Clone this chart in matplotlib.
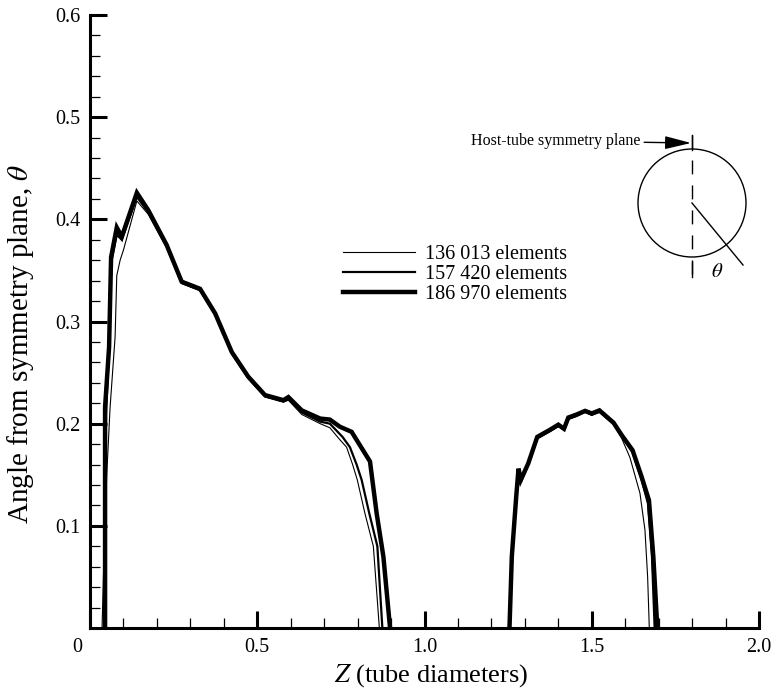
import matplotlib
matplotlib.use("Agg")
import matplotlib.pyplot as plt
from matplotlib.patches import Circle
from matplotlib.ticker import MultipleLocator, FixedLocator, FixedFormatter
from matplotlib.transforms import ScaledTranslation

plt.rcParams["font.family"] = ["Liberation Serif", "DejaVu Serif"]
plt.rcParams["mathtext.fontset"] = "stix"

nan = float("nan")

# angle of the separation line vs. axial position, three mesh densities
# (nan splits the two separated regions)
labels = ["136 013 elements", "157 420 elements", "186 970 elements"]
widths = [0.8, 1.6, 3.2]

z_136 = [0.036, 0.040, 0.050, 0.060, 0.075, 0.080, 0.090, 0.100, 0.140, 0.174,
         0.229, 0.274, 0.329, 0.374, 0.424, 0.473, 0.523, 0.578, 0.593, 0.633,
         0.688, 0.717, 0.745, 0.767, 0.785, 0.799, 0.822, 0.847, 0.865, nan,
         1.256, 1.262, 1.275, 1.281, 1.290, 1.310, 1.337, 1.375, 1.400, 1.417,
         1.430, 1.455, 1.480, 1.500, 1.523, 1.565, 1.589, 1.614, 1.644, 1.659,
         1.667, 1.672]
th_136 = [0.0, 0.050, 0.150, 0.216, 0.285, 0.345, 0.360, 0.370, 0.418, 0.405,
          0.372, 0.337, 0.330, 0.306, 0.268, 0.244, 0.226, 0.221, 0.223, 0.209,
          0.200, 0.196, 0.185, 0.177, 0.160, 0.145, 0.112, 0.080, 0.0, nan,
          0.0, 0.070, 0.128, 0.153, 0.143, 0.159, 0.185, 0.192, 0.197, 0.194,
          0.204, 0.207, 0.211, 0.208, 0.211, 0.199, 0.186, 0.167, 0.132, 0.096,
          0.050, 0.0]

z_157 = [0.042, 0.044, 0.048, 0.056, 0.062, 0.080, 0.095, 0.140, 0.174, 0.229,
         0.274, 0.329, 0.374, 0.424, 0.473, 0.523, 0.578, 0.593, 0.633, 0.688,
         0.717, 0.755, 0.777, 0.797, 0.812, 0.835, 0.859, 0.874, nan,
         1.255, 1.261, 1.274, 1.281, 1.289, 1.310, 1.337, 1.375, 1.400, 1.417,
         1.430, 1.455, 1.480, 1.500, 1.523, 1.565, 1.589, 1.622, 1.649, 1.668,
         1.680, 1.688]
th_157 = [0.0, 0.100, 0.210, 0.270, 0.355, 0.385, 0.380, 0.422, 0.407, 0.374,
          0.338, 0.331, 0.307, 0.269, 0.245, 0.227, 0.222, 0.224, 0.211, 0.202,
          0.200, 0.187, 0.177, 0.160, 0.145, 0.112, 0.080, 0.0, nan,
          0.0, 0.070, 0.128, 0.155, 0.144, 0.160, 0.186, 0.193, 0.198, 0.194,
          0.205, 0.208, 0.212, 0.209, 0.212, 0.200, 0.188, 0.172, 0.145, 0.122,
          0.070, 0.0]

z_187 = [0.045, 0.045, 0.045, 0.057, 0.063, 0.080, 0.095, 0.140, 0.174, 0.229,
         0.274, 0.329, 0.374, 0.424, 0.473, 0.523, 0.578, 0.593, 0.633, 0.688,
         0.717, 0.747, 0.782, 0.837, 0.857, 0.877, 0.897, nan,
         1.254, 1.261, 1.274, 1.281, 1.288, 1.310, 1.337, 1.375, 1.400, 1.417,
         1.430, 1.455, 1.480, 1.500, 1.523, 1.565, 1.589, 1.622, 1.649, 1.671,
         1.684, 1.696]
th_187 = [0.0, 0.210, 0.216, 0.275, 0.363, 0.392, 0.383, 0.426, 0.409, 0.375,
          0.339, 0.332, 0.308, 0.270, 0.246, 0.228, 0.223, 0.226, 0.213, 0.205,
          0.204, 0.197, 0.192, 0.163, 0.112, 0.070, 0.0, nan,
          0.0, 0.070, 0.128, 0.156, 0.145, 0.161, 0.187, 0.194, 0.199, 0.195,
          0.206, 0.209, 0.2125, 0.210, 0.213, 0.201, 0.189, 0.174, 0.148, 0.125,
          0.070, 0.0]

x_ticks = [0, 0.5, 1.0, 1.5, 2.0]
x_ticklabels = ["0", "0.5", "1.0", "1.5", "2.0"]
y_ticks = [0.1, 0.2, 0.3, 0.4, 0.5, 0.6]
y_ticklabels = ["0.1", "0.2", "0.3", "0.4", "0.5", "0.6"]

fig = plt.figure(figsize=(7.78, 6.92), dpi=100)
ax = fig.add_axes([0.1157, 0.0925, 0.8599, 0.8858])

series = [(z_136, th_136), (z_157, th_157), (z_187, th_187)]
for (z, th), lab, lw in zip(series, labels, widths):
    ax.plot(z, th, color="black", lw=lw, label=lab, solid_joinstyle="miter", zorder=2)

ax.set_xlim(0, 2.0)
ax.set_ylim(0, 0.6)
ax.xaxis.set_major_locator(FixedLocator(x_ticks))
ax.xaxis.set_major_formatter(FixedFormatter(x_ticklabels))
ax.yaxis.set_major_locator(FixedLocator(y_ticks))
ax.yaxis.set_major_formatter(FixedFormatter(y_ticklabels))
ax.xaxis.set_minor_locator(MultipleLocator(0.1))
ax.yaxis.set_minor_locator(MultipleLocator(0.02))

for side in ["top", "right"]:
    ax.spines[side].set_visible(False)
for side in ["left", "bottom"]:
    ax.spines[side].set_linewidth(2.2)
    ax.spines[side].set_zorder(3)

ax.tick_params(which="both", direction="in", top=False, right=False, labelsize=14.5)
ax.tick_params(which="major", length=12.5, width=2.2, pad=7)
ax.tick_params(which="minor", length=7, width=0.9)

# shared origin label sits a little left of the corner
lab0 = ax.get_xticklabels()[0]
lab0.set_transform(lab0.get_transform() + ScaledTranslation(-0.13, 0, fig.dpi_scale_trans))

ax.set_xlabel("$Z$ (tube diameters)", fontsize=19)
ax.set_ylabel(r"Angle from symmetry plane, $\theta$", fontsize=21)
ax.xaxis.set_label_coords(0.51, -0.056)
ax.yaxis.set_label_coords(-0.080, 0.463)

ax.legend(loc="upper left", bbox_to_anchor=(0.378, 0.625), frameon=False,
          fontsize=14.5, handlelength=3.6, handletextpad=0.5,
          labelspacing=0.05, borderpad=0, borderaxespad=0)

# sketch of the host tube cross-section, drawn in pixel units
ins = fig.add_axes([460 / 778, (692 - 290) / 692, 310 / 778, 170 / 692])
ins.set_xlim(460, 770)
ins.set_ylim(290, 120)
ins.set_aspect("equal")
ins.axis("off")
ins.add_patch(Circle((692, 203), 54, fill=False, lw=1.0, color="black"))
ins.plot([692, 692], [135, 277], color="black", lw=1.0, ls=(0, (10, 8)))
ins.plot([692, 692], [135, 150], color="black", lw=1.0)
ins.plot([692, 692], [262, 277], color="black", lw=1.0)
ins.plot([692, 743], [203, 265], color="black", lw=1.0)
ins.text(717, 273, r"$\theta$", fontsize=15, ha="center", va="center")
ins.annotate("Host-tube symmetry plane", xy=(691, 143), xytext=(640, 141),
             fontsize=11.5, ha="right", va="center",
             arrowprops=dict(arrowstyle="-|>,head_length=1.4,head_width=0.35",
                             color="black", lw=1.0, shrinkA=1, shrinkB=0))

fig.savefig("out.png", dpi=100)
